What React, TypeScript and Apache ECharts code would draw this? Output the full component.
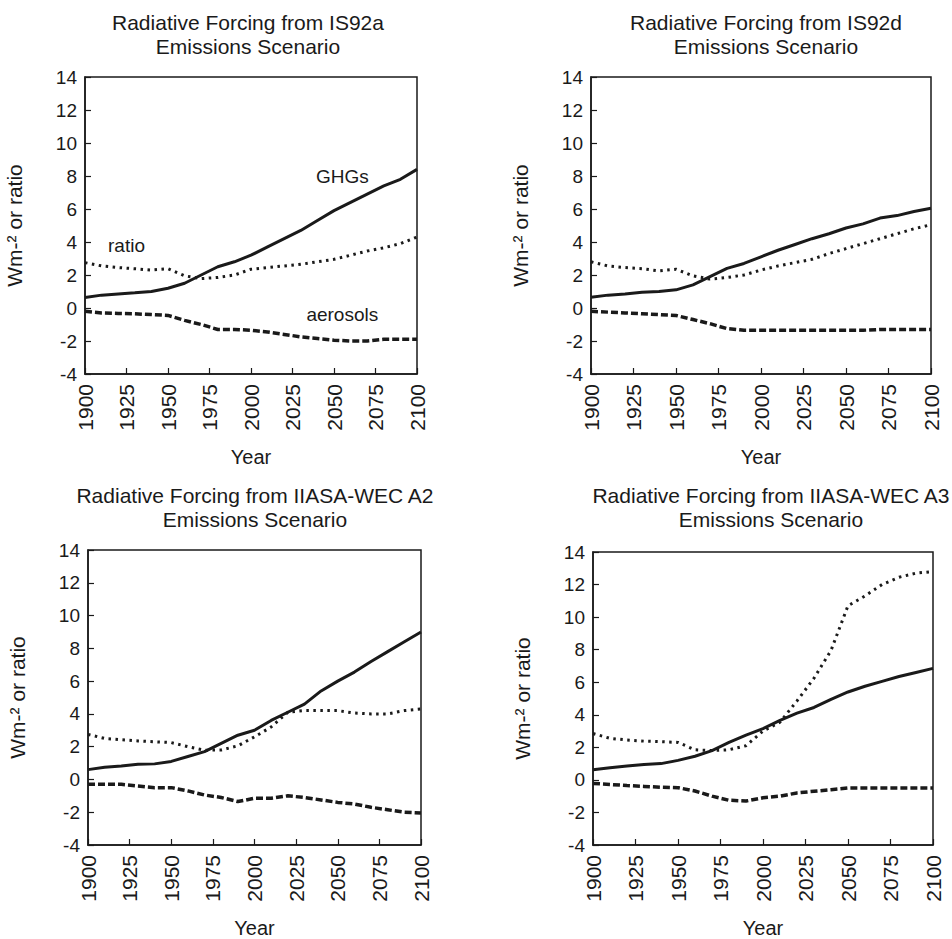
import React, { useEffect, useRef } from "react";
import * as echarts from "echarts";

const YEARS = [1900, 1910, 1920, 1930, 1940, 1950, 1960, 1970, 1980, 1990, 2000, 2010, 2020, 2030, 2040, 2050, 2060, 2070, 2080, 2090, 2100];
const Y_TICKS = { min: -4, max: 14, interval: 2 };
const X_TICKS = { min: 1900, max: 2100, interval: 25 };

const TITLES = [
  "Radiative Forcing from IS92a\nEmissions Scenario",
  "Radiative Forcing from IS92d\nEmissions Scenario",
  "Radiative Forcing from IIASA-WEC A2\nEmissions Scenario",
  "Radiative Forcing from IIASA-WEC A3\nEmissions Scenario",
];

// IS92a
const ghgA = [0.64, 0.78, 0.85, 0.92, 1.0, 1.2, 1.5, 2.0, 2.5, 2.8, 3.2, 3.7, 4.2, 4.7, 5.3, 5.9, 6.4, 6.9, 7.4, 7.8, 8.4];
const ratioA = [2.75, 2.55, 2.45, 2.38, 2.3, 2.38, 1.95, 1.78, 1.85, 2.0, 2.35, 2.45, 2.55, 2.65, 2.8, 2.95, 3.2, 3.45, 3.65, 3.9, 4.3];
const aeroA = [-0.2, -0.3, -0.33, -0.35, -0.4, -0.45, -0.75, -1.0, -1.3, -1.3, -1.35, -1.45, -1.6, -1.75, -1.85, -1.95, -2.0, -2.0, -1.9, -1.9, -1.9];

// IS92d
const ghgD = [0.65, 0.78, 0.85, 0.95, 1.0, 1.1, 1.4, 1.9, 2.4, 2.7, 3.1, 3.5, 3.85, 4.2, 4.5, 4.85, 5.1, 5.45, 5.6, 5.85, 6.05];
const ratioD = [2.8, 2.55, 2.45, 2.38, 2.25, 2.35, 1.95, 1.75, 1.85, 2.0, 2.3, 2.55, 2.75, 2.95, 3.3, 3.6, 3.9, 4.2, 4.5, 4.8, 5.05];
const aeroD = [-0.2, -0.25, -0.3, -0.35, -0.4, -0.45, -0.7, -0.95, -1.25, -1.35, -1.35, -1.35, -1.35, -1.35, -1.35, -1.35, -1.35, -1.3, -1.3, -1.3, -1.3];

// IIASA-WEC A2
const ghgA2 = [0.6, 0.75, 0.82, 0.92, 0.95, 1.1, 1.4, 1.7, 2.2, 2.7, 3.0, 3.6, 4.1, 4.6, 5.4, 6.0, 6.55, 7.2, 7.8, 8.4, 9.0];
const ratioA2 = [2.75, 2.5, 2.42, 2.35, 2.3, 2.25, 2.0, 1.78, 1.8, 2.05, 2.6, 3.2, 4.1, 4.2, 4.2, 4.2, 4.05, 4.0, 4.0, 4.2, 4.3];
const aeroA2 = [-0.3, -0.3, -0.3, -0.4, -0.5, -0.5, -0.7, -0.95, -1.1, -1.35, -1.15, -1.15, -1.0, -1.1, -1.25, -1.4, -1.5, -1.7, -1.85, -2.0, -2.05];

// IIASA-WEC A3
const ghgA3 = [0.62, 0.75, 0.85, 0.95, 1.0, 1.2, 1.45, 1.8, 2.3, 2.75, 3.15, 3.65, 4.1, 4.45, 4.95, 5.4, 5.75, 6.05, 6.35, 6.6, 6.85];
const ratioA3 = [2.85, 2.55, 2.45, 2.38, 2.35, 2.3, 1.85, 1.8, 1.85, 2.1, 3.0, 3.55, 4.85, 6.25, 7.95, 10.7, 11.3, 12.0, 12.45, 12.7, 12.8];
const aeroA3 = [-0.22, -0.28, -0.35, -0.4, -0.45, -0.48, -0.68, -1.0, -1.25, -1.3, -1.1, -1.0, -0.8, -0.7, -0.6, -0.5, -0.5, -0.5, -0.5, -0.5, -0.5];

const PANELS = [
  { ghg: ghgA, ratio: ratioA, aero: aeroA },
  { ghg: ghgD, ratio: ratioD, aero: aeroD },
  { ghg: ghgA2, ratio: ratioA2, aero: aeroA2 },
  { ghg: ghgA3, ratio: ratioA3, aero: aeroA3 },
];

// Curve labels in panel 1: [text, year, value]
const LABELS_A: [string, number, number][] = [
  ["GHGs", 2055, 8.0],
  ["ratio", 1925, 3.8],
  ["aerosols", 2055, -0.42],
];

const GRIDS = [
  { left: 85, top: 77, width: 332, height: 297, titleX: 243 },
  { left: 591, top: 77, width: 340, height: 297, titleX: 761 },
  { left: 88, top: 550, width: 333, height: 300, titleX: 250 },
  { left: 593, top: 552, width: 340, height: 298, titleX: 766 },
];

const FONT = "Liberation Sans, Arial, sans-serif";
const INK = "#1a1a1a";

export default function App() {
  const ref = useRef<HTMLDivElement>(null);
  useEffect(() => {
    if (!ref.current) return;
    const chart = echarts.init(ref.current, undefined, { renderer: "svg" });
    const pairs = (vals: number[]) => YEARS.map((y, i) => [y, vals[i]]);

    const series: any[] = [];
    PANELS.forEach((p, i) => {
      series.push({
        type: "line", xAxisIndex: i, yAxisIndex: i, data: pairs(p.ghg), showSymbol: false,
        lineStyle: { color: INK, width: 3, type: "solid" },
        markPoint: i === 0 ? {
          symbol: "circle", symbolSize: 0,
          label: { show: true, color: INK, fontSize: 19, fontFamily: FONT, formatter: (d: any) => d.name },
          data: LABELS_A.map(([t, x, y]) => ({ name: t, coord: [x, y] })),
        } : undefined,
      });
      series.push({
        type: "line", xAxisIndex: i, yAxisIndex: i, data: pairs(p.ratio), showSymbol: false,
        lineStyle: { color: INK, width: 3, type: [2.5, 4.5] },
      });
      series.push({
        type: "line", xAxisIndex: i, yAxisIndex: i, data: pairs(p.aero), showSymbol: false,
        lineStyle: { color: INK, width: 3.5, type: [7, 3] },
      });
    });

    chart.setOption({
      animation: false,
      backgroundColor: "#fff",
      title: GRIDS.map((g, i) => ({
        text: TITLES[i],
        left: g.titleX,
        top: i < 2 ? 5 : 478,
        textAlign: "center",
        textStyle: { fontFamily: FONT, fontSize: 21, fontWeight: "normal", color: INK, lineHeight: 24 },
      })),
      grid: GRIDS.map((g) => ({
        left: g.left, top: g.top, width: g.width, height: g.height,
        show: true, borderColor: INK, borderWidth: 1.5, backgroundColor: "transparent",
      })),
      xAxis: GRIDS.map((_, i) => ({
        type: "value", gridIndex: i, ...X_TICKS,
        name: "Year", nameLocation: "middle", nameGap: 73,
        nameTextStyle: { fontFamily: FONT, fontSize: 20, color: INK },
        axisLine: { show: true, onZero: false, lineStyle: { color: INK, width: 1.5 } },
        axisTick: { show: true, inside: true, length: 6, lineStyle: { color: INK, width: 1.2 } },
        axisLabel: { rotate: 90, margin: 10, fontFamily: FONT, fontSize: 21, color: INK, formatter: (v: number) => String(v) },
        splitLine: { show: false },
      })),
      yAxis: GRIDS.map((_, i) => ({
        type: "value", gridIndex: i, ...Y_TICKS,
        name: "Wm-² or ratio", nameLocation: "middle", nameGap: 60, nameRotate: 90,
        nameTextStyle: { fontFamily: FONT, fontSize: 21, color: INK },
        axisLine: { show: true, onZero: false, lineStyle: { color: INK, width: 1.5 } },
        axisTick: { show: true, inside: true, length: 6, lineStyle: { color: INK, width: 1.2 } },
        axisLabel: { margin: 8, fontFamily: FONT, fontSize: 19, color: INK },
        splitLine: { show: false },
      })),
      series,
    });
    return () => chart.dispose();
  }, []);
  return <div ref={ref} style={{ position: "fixed", left: 0, top: 0, width: 952, height: 939 }} />;
}
